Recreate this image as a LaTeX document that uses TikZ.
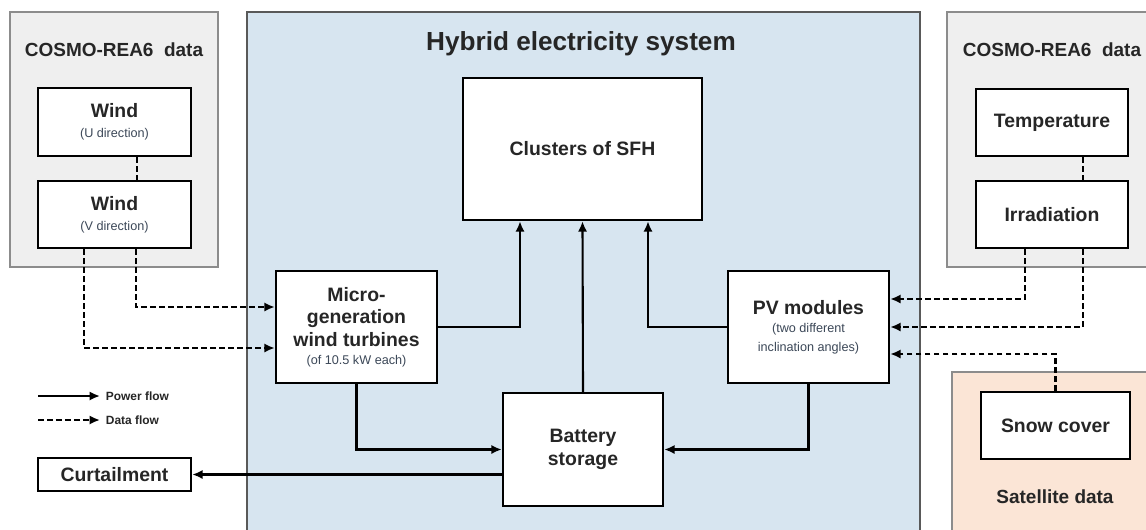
\documentclass[tikz,border=0pt]{standalone}
\usepackage{fontspec}
\setmainfont{Liberation Sans}
\usepackage{xcolor}
\definecolor{HybBlue}{HTML}{D7E5F0}
\definecolor{PanelGray}{HTML}{EFEFEF}
\definecolor{PanelEdge}{HTML}{8C8C8C}
\definecolor{MainEdge}{HTML}{595959}
\definecolor{SatPeach}{HTML}{FBE5D6}
\definecolor{DarkText}{HTML}{262626}
\definecolor{NoteText}{HTML}{3C4858}
\usetikzlibrary{positioning,calc,arrows.meta}

\newcommand{\subnote}[1]{{\fontsize{9}{10.5}\selectfont\mdseries\color{NoteText}#1}}

\tikzset{
  unitbox/.style={draw=black, fill=white, line width=1.7pt, align=center,
    text=DarkText, font=\fontsize{13.8}{16}\selectfont\bfseries, inner sep=2pt},
  paneltitle/.style={text=DarkText, font=\fontsize{13.5}{16}\selectfont\bfseries},
  powerflow/.style={line width=1.5pt, -{Latex[length=2.6mm,width=2.3mm]}},
  dataflow/.style={line width=1.5pt, dash pattern=on 4pt off 2.4pt, -{Latex[length=2.6mm,width=2.3mm]}},
  dataline/.style={line width=1.5pt, dash pattern=on 4pt off 2.4pt},
  legendtext/.style={text=DarkText, font=\fontsize{8.5}{10}\selectfont\bfseries, inner sep=1pt}
}

\begin{document}
\begin{tikzpicture}[x=0.025cm, y=-0.025cm]
  \useasboundingbox (0,0) rectangle (1146,529);
  \fill[white] (0,0) rectangle (1146,529);

  % panels
  \draw[PanelEdge, fill=PanelGray, line width=0.8pt] (10,12) rectangle (218,267);
  \draw[MainEdge, fill=HybBlue, line width=0.8pt] (247,12) rectangle (920,545);
  \draw[PanelEdge, fill=PanelGray, line width=0.8pt] (947,12) rectangle (1165,267);
  \draw[PanelEdge, fill=SatPeach, line width=0.8pt] (952,372) rectangle (1165,545);

  \node[paneltitle] (cosmoL) at (114,50) {COSMO-REA6~ data};
  \node[paneltitle] (cosmoR) at (1052,50) {COSMO-REA6~ data};
  \node[text=DarkText, font=\fontsize{18.6}{20}\selectfont\bfseries] (hybrid) at (581,44) {Hybrid electricity system};
  \node[paneltitle] (satellite) at (1055,497) {Satellite data};

  % boxes
  \node[unitbox, minimum width=3.825cm, minimum height=1.7cm] (windU) at (114.5,122) {Wind\\[-2pt]\subnote{(U direction)}};
  \node[unitbox, minimum width=3.825cm, minimum height=1.675cm] (windV) at (114.5,214.5) {Wind\\[-2pt]\subnote{(V direction)}};
  \node[unitbox, minimum width=5.975cm, minimum height=3.55cm] (sfh) at (582.5,149) {Clusters of SFH};
  \node[unitbox, minimum width=4.025cm, minimum height=2.8cm] (micro) at (356.5,327)
    {Micro-\\generation\\wind turbines\\[-3pt]\subnote{(of 10.5 kW each)}};
  \node[unitbox, minimum width=4.025cm, minimum height=2.8cm] (pv) at (808.5,327)
    {PV modules\\[-3pt]\subnote{(two different}\\[-3pt]\subnote{inclination angles)}};
  \node[unitbox, minimum width=4cm, minimum height=2.825cm] (battery) at (583,449.5) {Battery\\storage};
  \node[unitbox, minimum width=3.8cm, minimum height=1.675cm] (temp) at (1052,122.5) {Temperature};
  \node[unitbox, minimum width=3.8cm, minimum height=1.675cm] (irr) at (1052,214.5) {Irradiation};
  \node[unitbox, minimum width=3.725cm, minimum height=1.675cm] (snow) at (1055.5,425.5) {Snow cover};
  \node[unitbox, minimum width=3.825cm, minimum height=0.825cm] (curt) at (114.5,474.5) {Curtailment};

  % data flow
  \draw[dataline] ($(windU.south)+(22.5,0)$) -- ($(windV.north)+(22.5,0)$);
  \draw[dataflow] ($(windV.south)+(21.5,0)$) |- ($(micro.west)+(0,-20)$);
  \draw[dataflow] ($(windV.south)+(-30.5,0)$) |- ($(micro.west)+(0,21)$);
  \draw[dataline] ($(temp.south)+(31,0)$) -- ($(irr.north)+(31,0)$);
  \draw[dataflow] ($(irr.south)+(-27,0)$) |- ($(pv.east)+(0,-28)$);
  \draw[dataflow] ($(irr.south)+(31,0)$) |- (pv.east);
  \draw[dataflow] (snow.north) |- ($(pv.east)+(0,27)$);

  % power flow
  \draw[powerflow] (micro.east) -| ($(sfh.south)+(-62.5,0)$);
  \draw[powerflow] (battery.north) -- (sfh.south);
  \draw[powerflow] (pv.west) -| ($(sfh.south)+(65.5,0)$);
  \draw[powerflow] (micro.south) |- (battery.west);
  \draw[powerflow] (pv.south) |- (battery.east);
  \draw[powerflow] (battery.west |- curt.east) -- (curt.east);

  % legend
  \coordinate (pfA) at (38,396);
  \coordinate (pfB) at (100,396);
  \coordinate (dfA) at (38,420);
  \coordinate (dfB) at (100,420);
  \draw[powerflow] (pfA) -- (pfB);
  \draw[dataflow] (dfA) -- (dfB);
  \node[legendtext, right=3pt of pfB] (pfText) {Power flow};
  \node[legendtext, right=3pt of dfB] (dfText) {Data flow};
\end{tikzpicture}
\end{document}
